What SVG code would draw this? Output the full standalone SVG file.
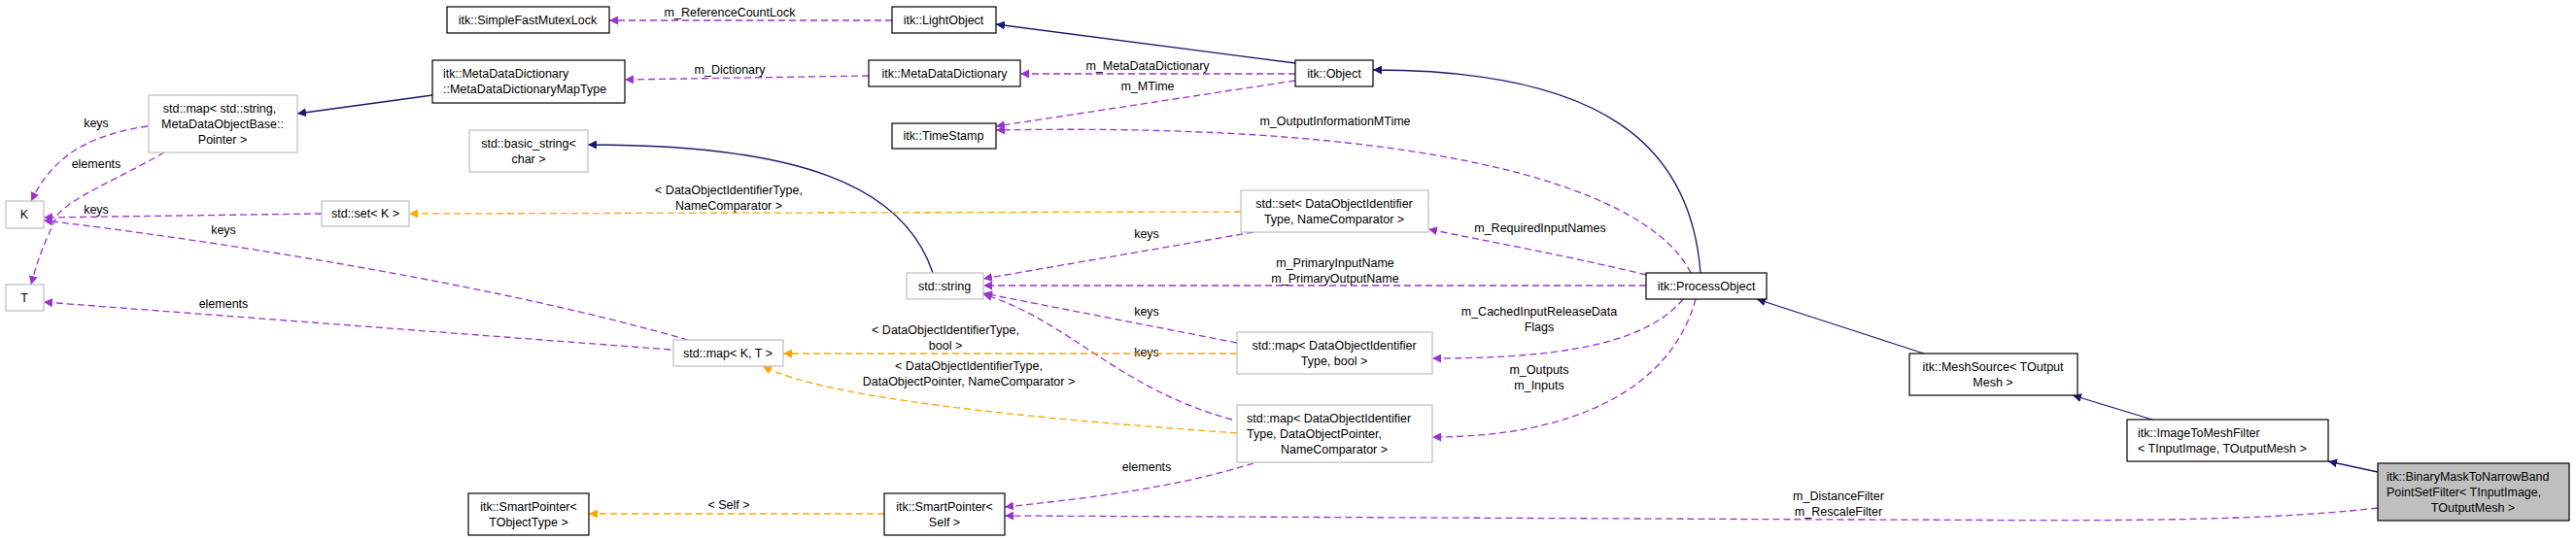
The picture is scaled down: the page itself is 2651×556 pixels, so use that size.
<svg xmlns="http://www.w3.org/2000/svg" width="2651" height="556" viewBox="0 0 2651 556">
<style>
text{font-family:"Liberation Sans",Arial,sans-serif;font-size:12.5px;fill:#000}
.c{text-anchor:middle}
.n rect{fill:#fff;stroke:#000;stroke-width:1.2}
.g rect{fill:#fff;stroke:#bfbfbf;stroke-width:1.2}
.i{fill:none;stroke:#191970;stroke-width:1.3;marker-end:url(#an)}
.p{fill:none;stroke:#9a32cd;stroke-width:1.3;stroke-dasharray:7,4;marker-end:url(#ap)}
.o{fill:none;stroke:#ffa500;stroke-width:1.3;stroke-dasharray:7,4;marker-end:url(#ao)}
</style>
<defs>
<marker id="an" viewBox="0 0 10 10" refX="10" refY="5" markerWidth="9" markerHeight="9" markerUnits="userSpaceOnUse" orient="auto"><path d="M0,0L10,5L0,10z" fill="#191970"/></marker>
<marker id="ap" viewBox="0 0 10 10" refX="10" refY="5" markerWidth="9" markerHeight="9" markerUnits="userSpaceOnUse" orient="auto"><path d="M0,0L10,5L0,10z" fill="#9a32cd"/></marker>
<marker id="ao" viewBox="0 0 10 10" refX="10" refY="5" markerWidth="9" markerHeight="9" markerUnits="userSpaceOnUse" orient="auto"><path d="M0,0L10,5L0,10z" fill="#ffa500"/></marker>
</defs>
<rect width="2651" height="556" fill="#fff"/>
<g id="edges">
<path class="i" d="M1333,65L1025,25"/>
<path class="i" d="M1750,281C1740,150 1650,72 1413,72"/>
<path class="i" d="M1980,364L1808,308"/>
<path class="i" d="M2215,432L2133,407"/>
<path class="i" d="M2447,486L2396,475"/>
<path class="i" d="M445,98L306,117"/>
<path class="i" d="M960,281C930,190 820,149 605,149"/>
<path class="p" d="M918,21L627,21"/><text class="c" x="751" y="17">m_ReferenceCountLock</text>
<path class="p" d="M894,78L643,82"/><text class="c" x="751" y="76">m_Dictionary</text>
<path class="p" d="M1333,76L1050,76"/><text class="c" x="1181" y="72">m_MetaDataDictionary</text>
<path class="p" d="M1333,83L1025,130"/><text class="c" x="1181" y="93">m_MTime</text>
<path class="p" d="M1740,281C1700,200 1500,125 1025,134"/><text class="c" x="1374" y="129">m_OutputInformationMTime</text>
<path class="p" d="M1694,283C1620,265 1540,250 1470,236"/><text class="c" x="1585" y="239">m_RequiredInputNames</text>
<path class="p" d="M1694,294L1012,294"/><text class="c" x="1374" y="275">m_PrimaryInputName</text><text class="c" x="1374" y="291">m_PrimaryOutputName</text>
<path class="p" d="M1290,239L1012,287"/><text class="c" x="1180" y="245">keys</text>
<path class="p" d="M1273,353L1012,302"/><text class="c" x="1180" y="325">keys</text>
<path class="p" d="M1268,432C1150,400 1100,330 1012,303"/><text class="c" x="1180" y="367">keys</text>
<path class="p" d="M1732,308C1690,360 1580,369 1474,369"/><text class="c" x="1584" y="325">m_CachedInputReleaseData</text><text class="c" x="1584" y="341">Flags</text>
<path class="p" d="M1745,308C1720,400 1620,450 1474,450"/><text class="c" x="1584" y="385">m_Outputs</text><text class="c" x="1584" y="401">m_Inputs</text>
<path class="p" d="M1290,477C1200,505 1100,515 1034,522"/><text class="c" x="1180" y="485">elements</text>
<path class="p" d="M2447,523C2300,540 2100,535 1900,535L1034,531"/><text class="c" x="1892" y="515">m_DistanceFilter</text><text class="c" x="1892" y="531">m_RescaleFilter</text>
<path class="p" d="M152,130C80,140 50,170 32,207"/><text class="c" x="99" y="131">keys</text>
<path class="p" d="M169,157C120,185 80,200 60,220C45,250 38,270 32,293"/><text class="c" x="99" y="173">elements</text>
<path class="p" d="M331,220L45,224"/><text class="c" x="99" y="220">keys</text>
<path class="p" d="M708,350C500,290 200,245 45,227"/><text class="c" x="230" y="241">keys</text>
<path class="p" d="M690,360L45,311"/><text class="c" x="230" y="317">elements</text>
<path class="o" d="M1277,218L421,220"/><text class="c" x="750" y="200">&lt; DataObjectIdentifierType,</text><text class="c" x="750" y="216">NameComparator &gt;</text>
<path class="o" d="M1273,364L806,364"/><text class="c" x="973" y="344">&lt; DataObjectIdentifierType,</text><text class="c" x="973" y="360">bool &gt;</text>
<path class="o" d="M1273,446C1050,430 850,410 785,377"/><text class="c" x="997" y="381">&lt; DataObjectIdentifierType,</text><text class="c" x="997" y="397">DataObjectPointer, NameComparator &gt;</text>
<path class="o" d="M910,529L606,529"/><text class="c" x="750" y="524">&lt; Self &gt;</text>
</g>
<g id="SimpleFastMutexLock" class="n"><rect x="460" y="7" width="167" height="27"/><text class="c" x="543" y="25">itk::SimpleFastMutexLock</text></g>
<g id="LightObject" class="n"><rect x="918" y="7" width="107" height="27"/><text class="c" x="971" y="25">itk::LightObject</text></g>
<g id="MapType" class="n"><rect x="445" y="62" width="198" height="44"/><text x="456" y="80">itk::MetaDataDictionary</text><text x="456" y="96">::MetaDataDictionaryMapType</text></g>
<g id="MetaDataDictionary" class="n"><rect x="894" y="62" width="156" height="27"/><text class="c" x="972" y="80">itk::MetaDataDictionary</text></g>
<g id="Object" class="n"><rect x="1333" y="62" width="80" height="27"/><text class="c" x="1373" y="80">itk::Object</text></g>
<g id="TimeStamp" class="n"><rect x="918" y="127" width="107" height="26"/><text class="c" x="971" y="144">itk::TimeStamp</text></g>
<g id="mapString" class="g"><rect x="153" y="98" width="153" height="59"/><text class="c" x="226" y="116">std::map&lt; std::string,</text><text class="c" x="229" y="132">MetaDataObjectBase::</text><text class="c" x="229" y="148">Pointer &gt;</text></g>
<g id="basicString" class="g"><rect x="483" y="134" width="122" height="43"/><text class="c" x="544" y="152">std::basic_string&lt;</text><text class="c" x="544" y="168">char &gt;</text></g>
<g id="K" class="g"><rect x="6" y="207" width="39" height="28"/><text class="c" x="25" y="225">K</text></g>
<g id="T" class="g"><rect x="6" y="293" width="39" height="27"/><text class="c" x="25" y="311">T</text></g>
<g id="setK" class="g"><rect x="331" y="207" width="90" height="26"/><text class="c" x="376" y="224">std::set&lt; K &gt;</text></g>
<g id="setDOI" class="g"><rect x="1277" y="196" width="193" height="43"/><text class="c" x="1373" y="214">std::set&lt; DataObjectIdentifier</text><text class="c" x="1373" y="230">Type, NameComparator &gt;</text></g>
<g id="stdString" class="g"><rect x="933" y="281" width="79" height="27"/><text class="c" x="972" y="299">std::string</text></g>
<g id="ProcessObject" class="n"><rect x="1694" y="281" width="124" height="27"/><text class="c" x="1756" y="299">itk::ProcessObject</text></g>
<g id="mapKT" class="g"><rect x="693" y="350" width="113" height="27"/><text class="c" x="749" y="368">std::map&lt; K, T &gt;</text></g>
<g id="mapDOIbool" class="g"><rect x="1273" y="342" width="201" height="43"/><text class="c" x="1373" y="360">std::map&lt; DataObjectIdentifier</text><text class="c" x="1373" y="376">Type, bool &gt;</text></g>
<g id="mapDOP" class="g"><rect x="1273" y="417" width="201" height="59"/><text x="1283" y="435">std::map&lt; DataObjectIdentifier</text><text x="1283" y="451">Type, DataObjectPointer,</text><text class="c" x="1373" y="467">NameComparator &gt;</text></g>
<g id="MeshSource" class="n"><rect x="1965" y="364" width="173" height="43"/><text class="c" x="2051" y="382">itk::MeshSource&lt; TOutput</text><text class="c" x="2051" y="398">Mesh &gt;</text></g>
<g id="ImageToMeshFilter" class="n"><rect x="2189" y="432" width="207" height="43"/><text x="2200" y="450">itk::ImageToMeshFilter</text><text x="2200" y="466">&lt; TInputImage, TOutputMesh &gt;</text></g>
<g id="SmartPointerT" class="n"><rect x="482" y="508" width="124" height="43"/><text class="c" x="544" y="526">itk::SmartPointer&lt;</text><text class="c" x="544" y="542">TObjectType &gt;</text></g>
<g id="SmartPointerSelf" class="n"><rect x="910" y="508" width="124" height="43"/><text class="c" x="972" y="526">itk::SmartPointer&lt;</text><text class="c" x="972" y="542">Self &gt;</text></g>
<g id="BinaryMask"><rect x="2447" y="477" width="197" height="59" fill="#bfbfbf" stroke="#000" stroke-width="1.2"/><text x="2456" y="495">itk::BinaryMaskToNarrowBand</text><text x="2456" y="511">PointSetFilter&lt; TInputImage,</text><text class="c" x="2545" y="527">TOutputMesh &gt;</text></g>
</svg>
